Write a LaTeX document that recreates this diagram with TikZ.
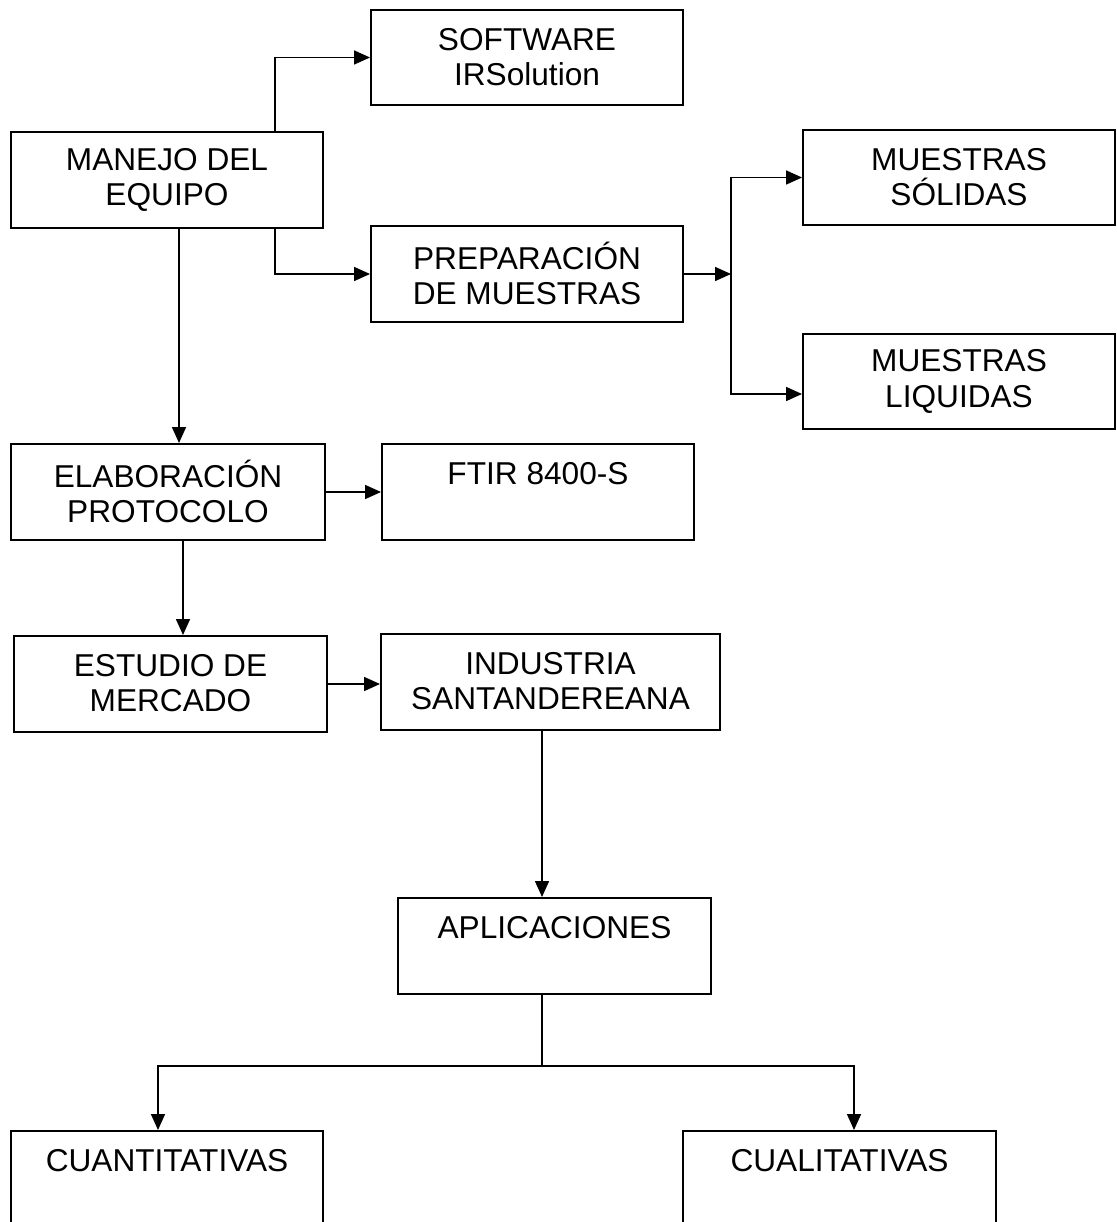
\documentclass[tikz,border=0pt]{standalone}
\usepackage{fontspec}
\setmainfont{Liberation Sans}
\usetikzlibrary{arrows.meta}
\tikzset{
    box/.style={draw, line width=0.04cm, minimum width=6.24cm, minimum height=1.92cm,
        inner sep=0pt, align=center, font=\fontsize{18}{20}\selectfont,
        execute at begin node=\rule{0pt}{23pt},
        execute at end node=\rule[-1pt]{0pt}{1pt}},
    lin/.style={line width=0.03cm},
    arr/.style={line width=0.03cm, -{Triangle[length=0.32cm,width=0.28cm]}}
}
\begin{document}
\begin{tikzpicture}[x=0.02cm, y=-0.02cm]
        \useasboundingbox (0,0) rectangle (1116,1222);
        \node[box] (soft) at (527,57.5) {SOFTWARE\\IRSolution};
        \node[box] (manejo) at (167,180) {MANEJO DEL\\EQUIPO};
        \node[box] (prep) at (527,274) {PREPARACIÓN\\DE MUESTRAS};
        \node[box] (solidas) at (959,177.5) {MUESTRAS\\SÓLIDAS};
        \node[box] (liquidas) at (959,381.5) {MUESTRAS\\LIQUIDAS};
        \node[box, minimum width=6.28cm] (elab) at (168,492) {ELABORACIÓN\\PROTOCOLO};
        \node[box] (ftir) at (538,492) {FTIR 8400-S\\};
        \node[box, minimum width=6.26cm] (estudio) at (170.5,684) {ESTUDIO DE\\MERCADO};
        \node[box, minimum width=6.78cm] (industria) at (550.5,682) {INDUSTRIA\\SANTANDEREANA};
        \node[box, minimum width=6.26cm] (aplic) at (554.5,946) {APLICACIONES\\};
        \node[box] (cuanti) at (167,1179) {CUANTITATIVAS\\};
        \node[box, minimum width=6.26cm] (cuali) at (839.5,1179) {CUALITATIVAS\\};
        \coordinate (colA) at (179,0);
        \coordinate (colB) at (275,0);
        \coordinate (colC) at (183,0);
        \coordinate (colD) at (542,0);
        \coordinate (split) at (731,274);
        \coordinate (bus) at (542,1066);
        \draw[arr] (manejo.north -| colB) |- (soft.west);
        \draw[arr] (manejo.south -| colB) |- (prep.west);
        \draw[arr] (manejo.south -| colA) -- (elab.north -| colA);
        \draw[arr] (prep.east) -- (split);
        \draw[arr] (split) |- (solidas.west);
        \draw[arr] (split) |- (liquidas.west |- 0,394);
        \draw[arr] (elab.east) -- (ftir.west);
        \draw[arr] (elab.south -| colC) -- (estudio.north -| colC);
        \draw[arr] (estudio.east) -- (estudio.east -| industria.west);
        \draw[arr] (industria.south -| colD) -- (aplic.north -| colD);
        \draw[lin] (aplic.south -| colD) -- (bus);
        \draw[arr] (bus) -| (cuanti.north -| 158,0);
        \draw[arr] (bus) -| (cuali.north -| 854,0);
    \end{tikzpicture}
\end{document}
